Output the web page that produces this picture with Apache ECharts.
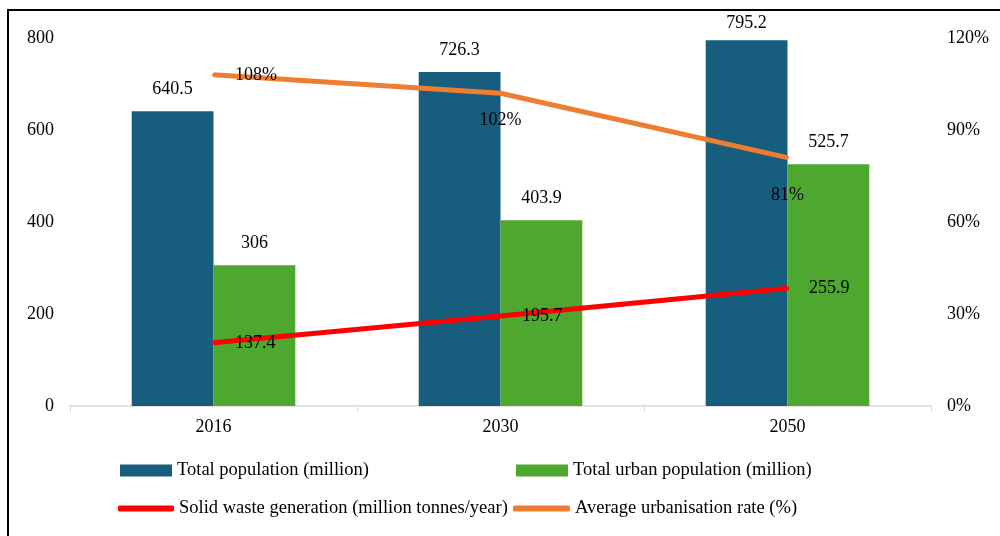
<!DOCTYPE html>
<html><head><meta charset="utf-8">
<script src="https://cdn.jsdelivr.net/npm/echarts@6/dist/echarts.min.js"></script>
<style>html,body{margin:0;padding:0;background:#fff}#c{width:1000px;height:536px}</style>
</head><body><div id="c"></div>
<script>
const categories = ['2016', '2030', '2050'];
const totalPopulation = [640.5, 726.3, 795.2];
const urbanPopulation = [306, 403.9, 525.7];
const solidWaste = [137.4, 195.7, 255.9];
const urbanisationRate = [108, 102, 81];
const leftTicks = {min: 0, max: 800, interval: 200};
const rightTicks = {min: 0, max: 120, interval: 30};

const F = 'Liberation Serif, Times New Roman, serif';
const chart = echarts.init(document.getElementById('c'));
const txt = {fontFamily: F, fontSize: 18, color: '#000'};
const names = ['Total population (million)', 'Total urban population (million)',
  'Solid waste generation (million tonnes/year)', 'Average urbanisation rate (%)'];
const orangeLabelPos = [{position: 'right', distance: 20}, {position: 'bottom', distance: 17}, {position: 'bottom', distance: 27}];
const totalLabelDist = [13, 13, 8];
function legend(name, left, top, icon, w, h) {
  return {data: [{name: name, icon: icon}], left: left, top: top, itemWidth: w, itemHeight: h,
    textStyle: {fontFamily: F, fontSize: 18.5, color: '#000'}, padding: 0, selectedMode: false};
}
chart.setOption({
  animation: false,
  graphic: [{type: 'rect', shape: {x: 8, y: 10, width: 1000, height: 540}, style: {fill: 'none', stroke: '#000', lineWidth: 2}}],
  grid: {left: 70, right: 69, top: 38, bottom: 130},
  legend: [
    legend(names[0], 120, 461, 'rect', 52, 12),
    legend(names[1], 516, 461, 'rect', 52, 12),
    legend(names[2], 118, 499, 'roundRect', 56, 6),
    legend(names[3], 513, 499, 'roundRect', 57, 6)
  ],
  xAxis: {type: 'category', data: categories,
    axisLine: {lineStyle: {color: '#d9d9d9', width: 1.5}},
    axisTick: {show: true, length: 6, lineStyle: {color: '#d9d9d9'}},
    axisLabel: Object.assign({margin: 12}, txt)},
  yAxis: [
    {type: 'value', min: leftTicks.min, max: leftTicks.max, interval: leftTicks.interval,
      splitLine: {show: false}, axisLine: {show: false}, axisTick: {show: false},
      axisLabel: Object.assign({margin: 16}, txt)},
    {type: 'value', min: rightTicks.min, max: rightTicks.max, interval: rightTicks.interval,
      splitLine: {show: false}, axisLine: {show: false}, axisTick: {show: false},
      axisLabel: Object.assign({margin: 16, formatter: '{value}%'}, txt)}
  ],
  series: [
    {name: names[0], type: 'bar', barGap: '0%', barCategoryGap: '43%',
      data: totalPopulation.map((v, i) => ({value: v, label: {distance: totalLabelDist[i]}})),
      itemStyle: {color: '#175E7E'}, label: Object.assign({show: true, position: 'top', distance: 13}, txt)},
    {name: names[1], type: 'bar', data: urbanPopulation,
      itemStyle: {color: '#4EA72E'}, label: Object.assign({show: true, position: 'top', distance: 13}, txt)},
    {name: names[2], type: 'line', data: solidWaste, symbol: 'circle', symbolSize: 3, showSymbol: true,
      lineStyle: {color: '#FF0000', width: 5}, itemStyle: {color: '#FF0000'},
      label: Object.assign({show: true, position: 'right', distance: 20}, txt)},
    {name: names[3], type: 'line', yAxisIndex: 1, symbol: 'circle', symbolSize: 3, showSymbol: true,
      data: urbanisationRate.map((v, i) => ({value: v, label: orangeLabelPos[i]})),
      lineStyle: {color: '#ED7D31', width: 5}, itemStyle: {color: '#ED7D31'},
      label: Object.assign({show: true, formatter: '{c}%'}, txt)}
  ]
});
</script></body></html>
